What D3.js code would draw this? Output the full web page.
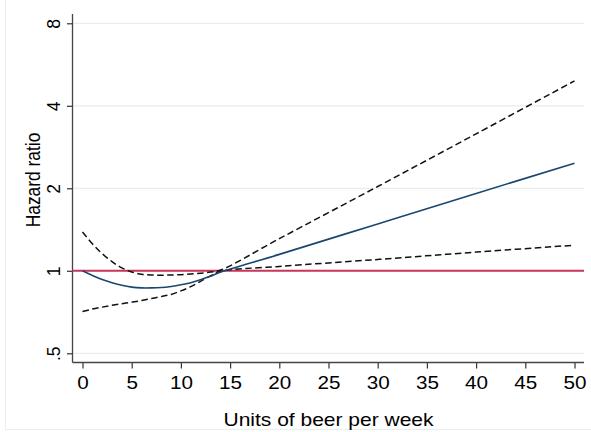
<!DOCTYPE html>
<html>
<head>
<meta charset="utf-8">
<script src="https://cdn.jsdelivr.net/npm/d3@7"></script>
<style>
  body { margin: 0; background: #fff; }
  text { font-family: "Liberation Sans", Arial, sans-serif; fill: #000; }
</style>
</head>
<body>
<script>
// units of beer per week (x positions of the spline)
const beer = [0, 1, 2, 3, 4, 5, 6, 7, 8, 9, 10, 11, 12, 13, 14, 20, 30, 40, 50];
// hazard ratio and 95% CI
const hr    = [1.00, 0.962, 0.93, 0.905, 0.885, 0.872, 0.866, 0.866, 0.869, 0.877, 0.889, 0.905, 0.928, 0.955, 0.988, 1.148, 1.483, 1.915, 2.47];
const upper = [1.385, 1.255, 1.155, 1.08, 1.025, 0.99, 0.972, 0.965, 0.964, 0.965, 0.968, 0.973, 0.98, 0.99, 1.005, 1.31, 2.03, 3.16, 4.93];
const lower = [0.71, 0.725, 0.737, 0.748, 0.758, 0.768, 0.779, 0.792, 0.805, 0.82, 0.845, 0.875, 0.915, 0.958, 0.995, 1.037, 1.10, 1.17, 1.24];

const xTicks = [0, 5, 10, 15, 20, 25, 30, 35, 40, 45, 50];
const yTicks = [0.5, 1, 2, 4, 8];
const yTickLabels = ['.5', '1', '2', '4', '8'];

const W = 591, H = 432;
const plot = { left: 72.5, right: 584, top: 14, bottom: 362.5 };

const svg = d3.select('body').append('svg')
  .attr('width', W)
  .attr('height', H);

// outer graph region frame
svg.append('rect')
  .attr('x', 5.5).attr('y', -10)
  .attr('width', 620).attr('height', 439.5)
  .attr('fill', 'none')
  .attr('stroke', '#e9eef0');

const x = d3.scaleLinear().domain([0, 50]).range([82.5, 574.5]);
const y = d3.scaleLog().base(2).domain([0.5, 8]).range([353.3, 23.3]);

// grid lines
svg.append('g')
  .selectAll('line')
  .data(yTicks)
  .enter().append('line')
    .attr('x1', plot.left).attr('x2', plot.right)
    .attr('y1', d => y(d)).attr('y2', d => y(d))
    .attr('stroke', '#e6eef0')
    .attr('stroke-width', 1.2);

// y axis
const yAxis = svg.append('g')
  .attr('transform', `translate(${plot.left}, 0)`)
  .call(d3.axisLeft(y).tickValues(yTicks).tickFormat((d, i) => yTickLabels[i]).tickSize(5.5).tickSizeOuter(0));
yAxis.select('.domain').remove();
yAxis.selectAll('.tick line').attr('stroke', '#333').attr('stroke-width', 1.2);
yAxis.selectAll('.tick text')
  .attr('x', null).attr('dy', null)
  .attr('text-anchor', 'middle')
  .attr('font-size', '17.5px')
  .attr('transform', 'translate(-12.5, 0) scale(1.05, 1) rotate(-90)');

// x axis
const xAxis = svg.append('g')
  .attr('transform', `translate(0, ${plot.bottom})`)
  .call(d3.axisBottom(x).tickValues(xTicks).tickSize(6).tickSizeOuter(0));
xAxis.select('.domain').remove();
xAxis.selectAll('.tick line').attr('stroke', '#333').attr('stroke-width', 1.2);
xAxis.selectAll('.tick text')
  .attr('y', null).attr('dy', null)
  .attr('font-size', '17.5px')
  .attr('transform', 'translate(0, 26) scale(1.18, 1)');

// axis lines
svg.append('line')
  .attr('x1', plot.left).attr('x2', plot.left)
  .attr('y1', plot.top).attr('y2', plot.bottom)
  .attr('stroke', '#444').attr('stroke-width', 1.3);
svg.append('line')
  .attr('x1', plot.left).attr('x2', plot.right)
  .attr('y1', plot.bottom).attr('y2', plot.bottom)
  .attr('stroke', '#444').attr('stroke-width', 1.3);

// reference line at HR = 1
svg.append('line')
  .attr('x1', plot.left).attr('x2', plot.right)
  .attr('y1', y(1)).attr('y2', y(1))
  .attr('stroke', '#c8365a')
  .attr('stroke-width', 2);

const line = vals => d3.line()
  .x((d, i) => x(beer[i]))
  .y(d => y(d))
  .curve(d3.curveCatmullRom.alpha(0.5))(vals);

svg.append('path')
  .attr('d', line(upper))
  .attr('fill', 'none')
  .attr('stroke', '#111')
  .attr('stroke-width', 1.5)
  .attr('stroke-dasharray', '6.5,3.5');

svg.append('path')
  .attr('d', line(lower))
  .attr('fill', 'none')
  .attr('stroke', '#111')
  .attr('stroke-width', 1.5)
  .attr('stroke-dasharray', '6.5,3.5');

svg.append('path')
  .attr('d', line(hr))
  .attr('fill', 'none')
  .attr('stroke', '#1a476f')
  .attr('stroke-width', 1.6);

// axis titles
svg.append('text')
  .attr('text-anchor', 'middle')
  .attr('font-size', '17.5px')
  .attr('transform', 'translate(328.5, 425.5) scale(1.2, 1)')
  .text('Units of beer per week');

svg.append('text')
  .attr('text-anchor', 'middle')
  .attr('font-size', '17.4px')
  .attr('transform', 'translate(40, 180) scale(1.2, 1) rotate(-90)')
  .text('Hazard ratio');
</script>
</body>
</html>
